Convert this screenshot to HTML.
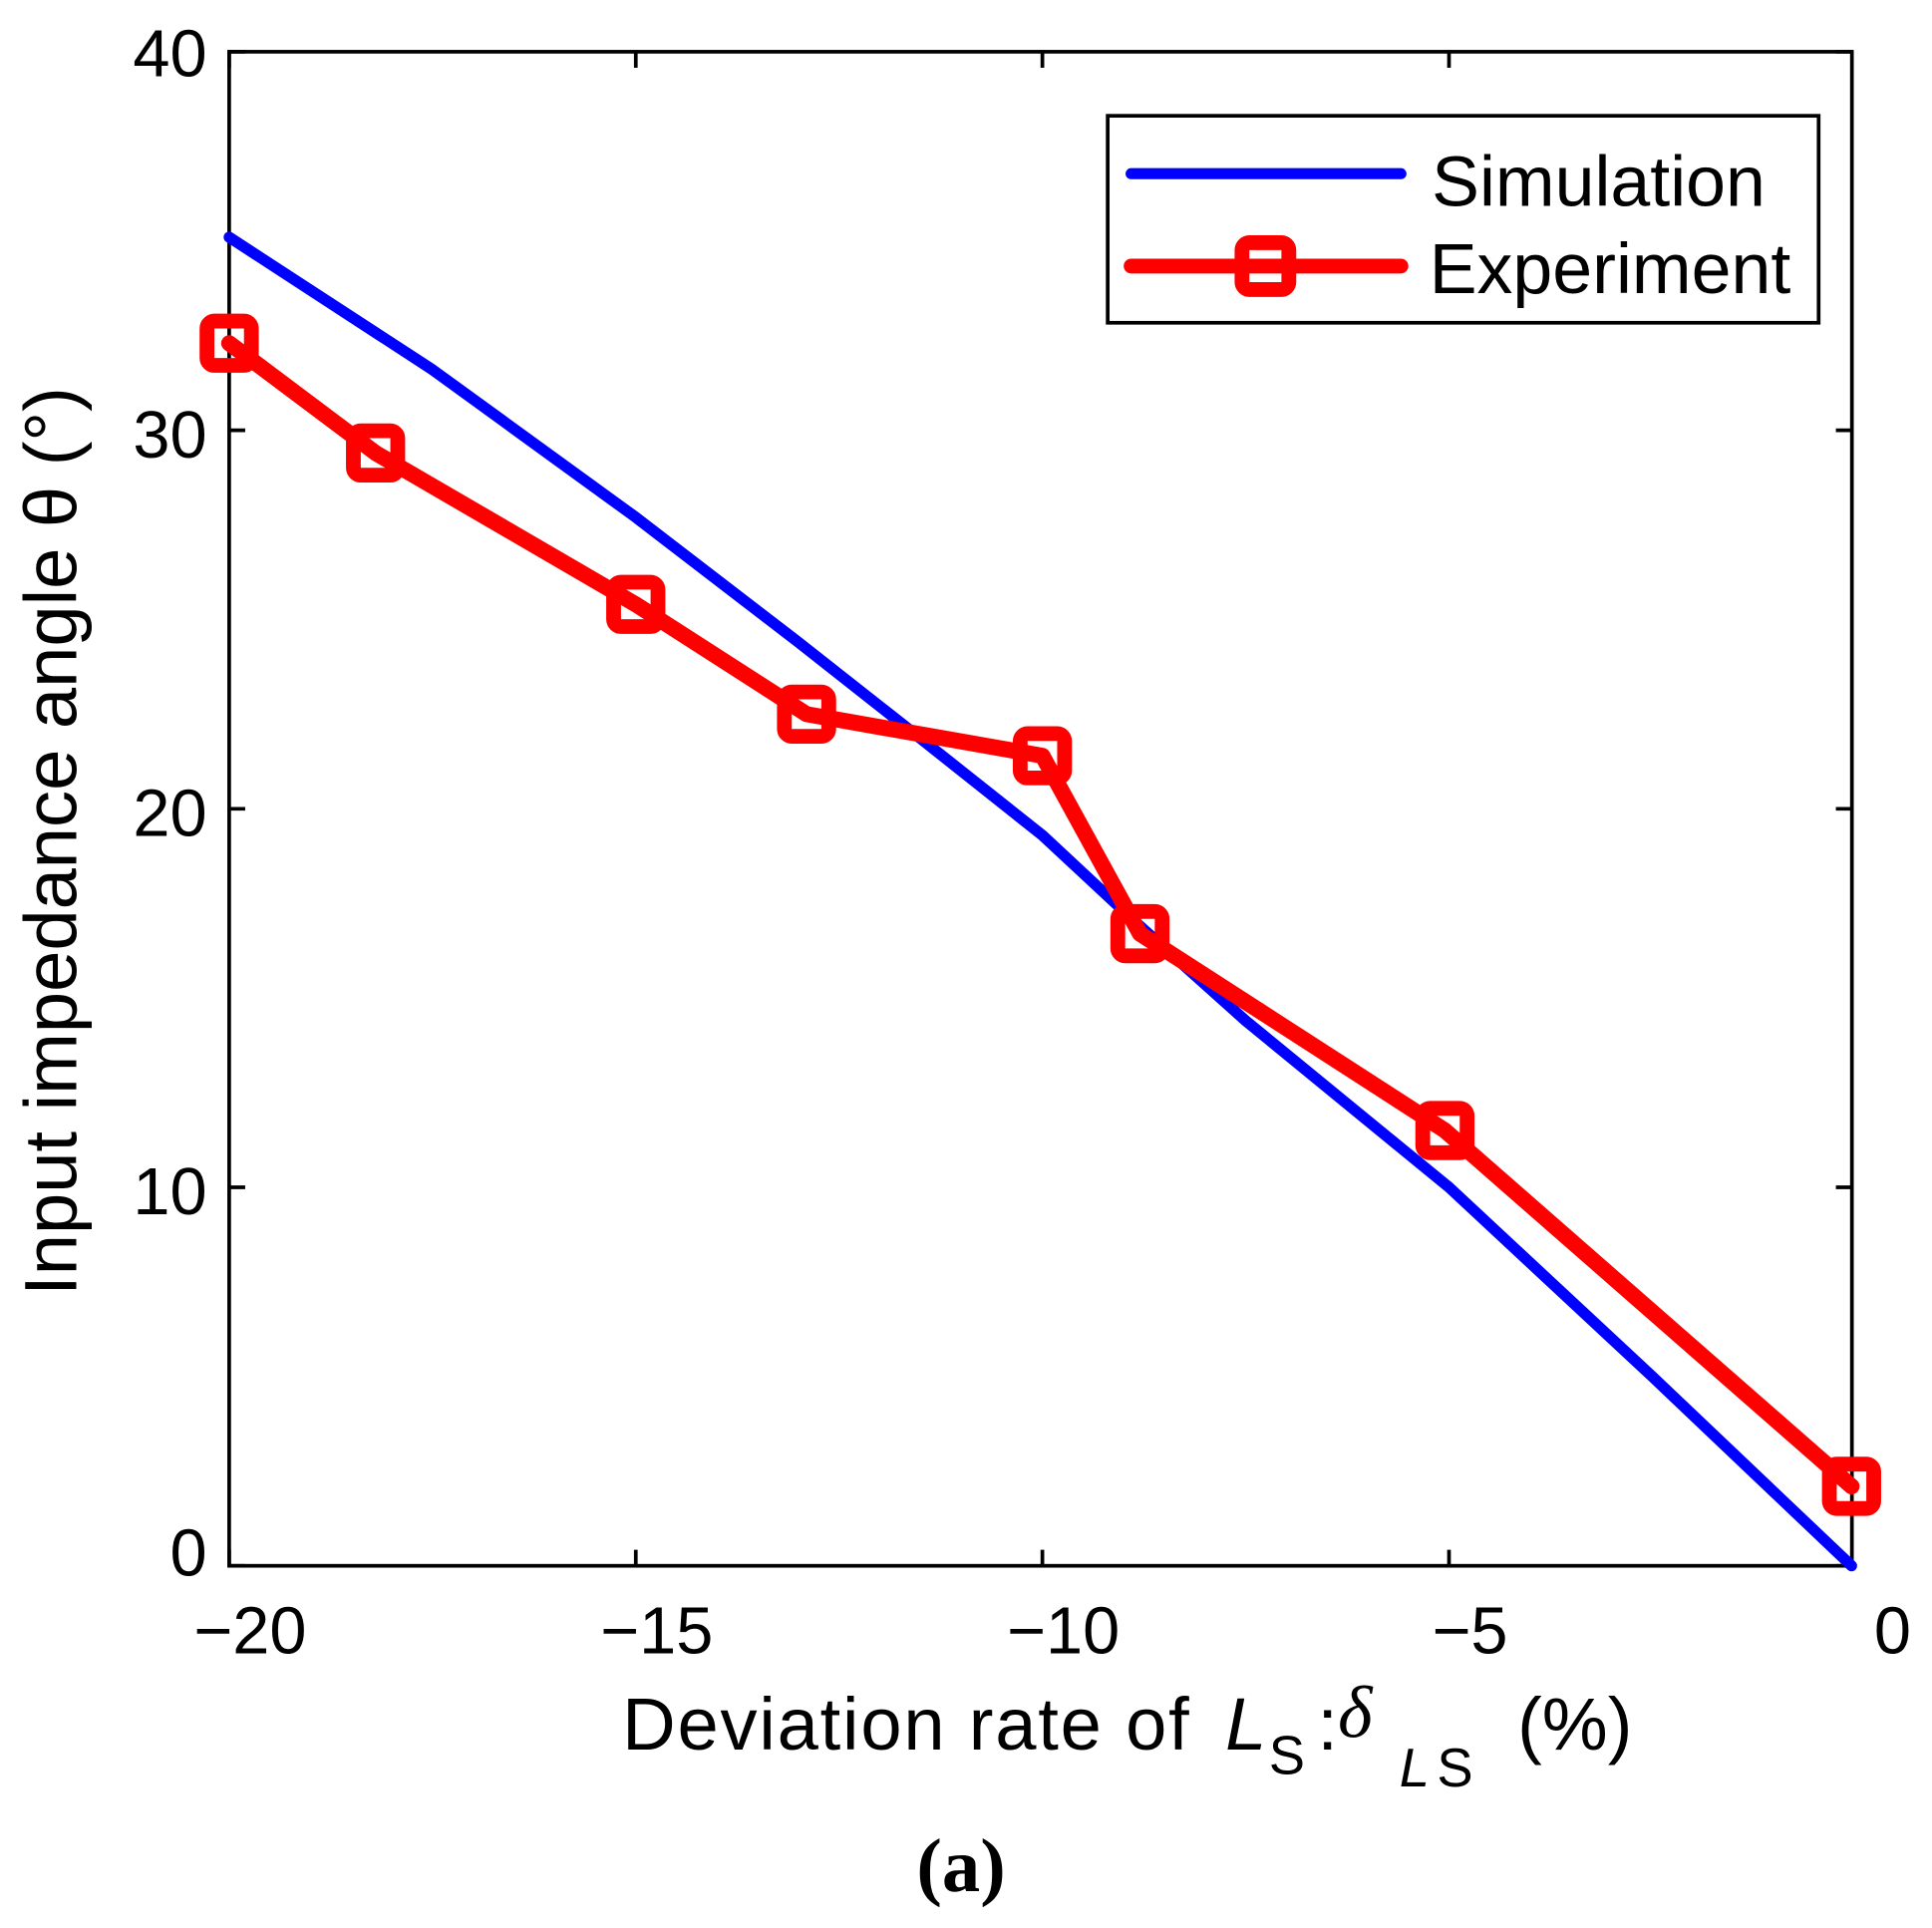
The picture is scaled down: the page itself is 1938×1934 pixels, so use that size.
<!DOCTYPE html>
<html><head><meta charset="utf-8"><style>
html,body{margin:0;padding:0;background:#fff}
svg{display:block}
text{font-family:"Liberation Sans",Arial,sans-serif;fill:#000}
</style></head><body>
<svg id="chart" width="1938" height="1934" viewBox="0 0 1568 1565" preserveAspectRatio="none" xmlns="http://www.w3.org/2000/svg">
<rect x="186" y="42" width="1317" height="1229" fill="#fff" stroke="#000" stroke-width="3"/>
<g id="ticks"></g>
<g id="series"></g>
<text x="0" y="0" font-size="60" text-anchor="middle" transform="translate(62,683) rotate(-90)">Input impedance angle θ (°)</text>
<text x="505" y="1420" font-size="60"><tspan textLength="460" lengthAdjust="spacing">Deviation rate of</tspan><tspan font-style="italic" dx="28">L</tspan><tspan font-size="44" dy="20" dx="2">S</tspan><tspan dy="-20" dx="10">:</tspan><tspan font-style="italic" font-family="Liberation Serif" dy="-10">δ</tspan><tspan font-style="italic" font-size="44" dy="40" dx="22">L</tspan><tspan font-size="44" dx="6">S</tspan><tspan dy="-30" dx="36">(%)</tspan></text>
<text x="780" y="1535" font-size="62" font-weight="bold" text-anchor="middle" style="font-family:'Liberation Serif',serif">(a)</text>
<g>
<rect x="899" y="94" width="577" height="168" fill="#fff" stroke="#000" stroke-width="3"/>
<line x1="918" y1="141" x2="1137" y2="141" stroke="#0000ff" stroke-width="9" stroke-linecap="round"/>
<text x="1162" y="167" font-size="58">Simulation</text>
<line x1="918" y1="216" x2="1137" y2="216" stroke="#ff0000" stroke-width="12" stroke-linecap="round"/>
<rect x="1008" y="197" width="38" height="38" rx="6" fill="none" stroke="#ff0000" stroke-width="12"/>
<text x="1160" y="238" font-size="58">Experiment</text>
</g>
</svg>
<script>
const xTicks=[-20,-15,-10,-5,0];
const yTicks=[0,10,20,30,40];
const simX=[-20,-17.5,-15,-13,-11.7,-10,-8.8,-7.5,-5,-2.5,-0.05];
const simY=[35.1,31.6,27.7,24.4,22.2,19.3,16.9,14.4,10.0,5.0,0];
const expX=[-20,-18.2,-15,-12.9,-10,-8.8,-5.05,-0.05];
const expY=[32.3,29.4,25.4,22.5,21.4,16.7,11.5,2.1];
const NS="http://www.w3.org/2000/svg";
function sx(v){return 186+(v+20)*66;}
function sy(v){return 1271-v*30.725;}
const tg=document.getElementById('ticks');
function mk(tag,attrs,parent){const e=document.createElementNS(NS,tag);for(const k in attrs)e.setAttribute(k,attrs[k]);parent.appendChild(e);return e;}
xTicks.forEach(t=>{
  const x=sx(t);
  if(x<1503){
    const a=mk('line',{x1:x,y1:1271,x2:x,y2:1258,stroke:'#000','stroke-width':3},tg);
    
    
    const b=mk('line',{x1:x,y1:42,x2:x,y2:55,stroke:'#000','stroke-width':3},tg);
    
    
  }
  const lb=mk('text',{x:x+(t===0?30:17),y:1342,'font-size':54,'text-anchor':'middle'},tg);
  lb.textContent=(t<0?'\u2212'+(-t):String(t));
  
  
});
yTicks.forEach(t=>{
  const y=sy(t);
  const a=mk('line',{x1:186,y1:y,x2:199,y2:y,stroke:'#000','stroke-width':3},tg);
  
  
  const b=mk('line',{x1:1503,y1:y,x2:1490,y2:y,stroke:'#000','stroke-width':3},tg);
  
  
  const lb=mk('text',{x:168,y:y+(t===0?8:(t===40?20:22)),'font-size':54,'text-anchor':'end'},tg);
  lb.textContent=String(t);
  
  
});
const sg=document.getElementById('series');
const sim=mk('polyline',{points:simX.map((x,i)=>sx(x)+','+sy(simY[i])).join(' '),fill:'none',stroke:'#0000ff','stroke-width':9,'stroke-linejoin':'round','stroke-linecap':'round'},sg);


const ex=mk('polyline',{points:expX.map((x,i)=>sx(x)+','+sy(expY[i])).join(' '),fill:'none',stroke:'#ff0000','stroke-width':13,'stroke-linejoin':'round','stroke-linecap':'round'},sg);


expX.forEach((x,i)=>{
  const r=mk('rect',{x:sx(x)-18,y:sy(expY[i])-18,width:36,height:36,rx:6,fill:'none',stroke:'#ff0000','stroke-width':12},sg);
  
  
});
</script>
</body></html>
